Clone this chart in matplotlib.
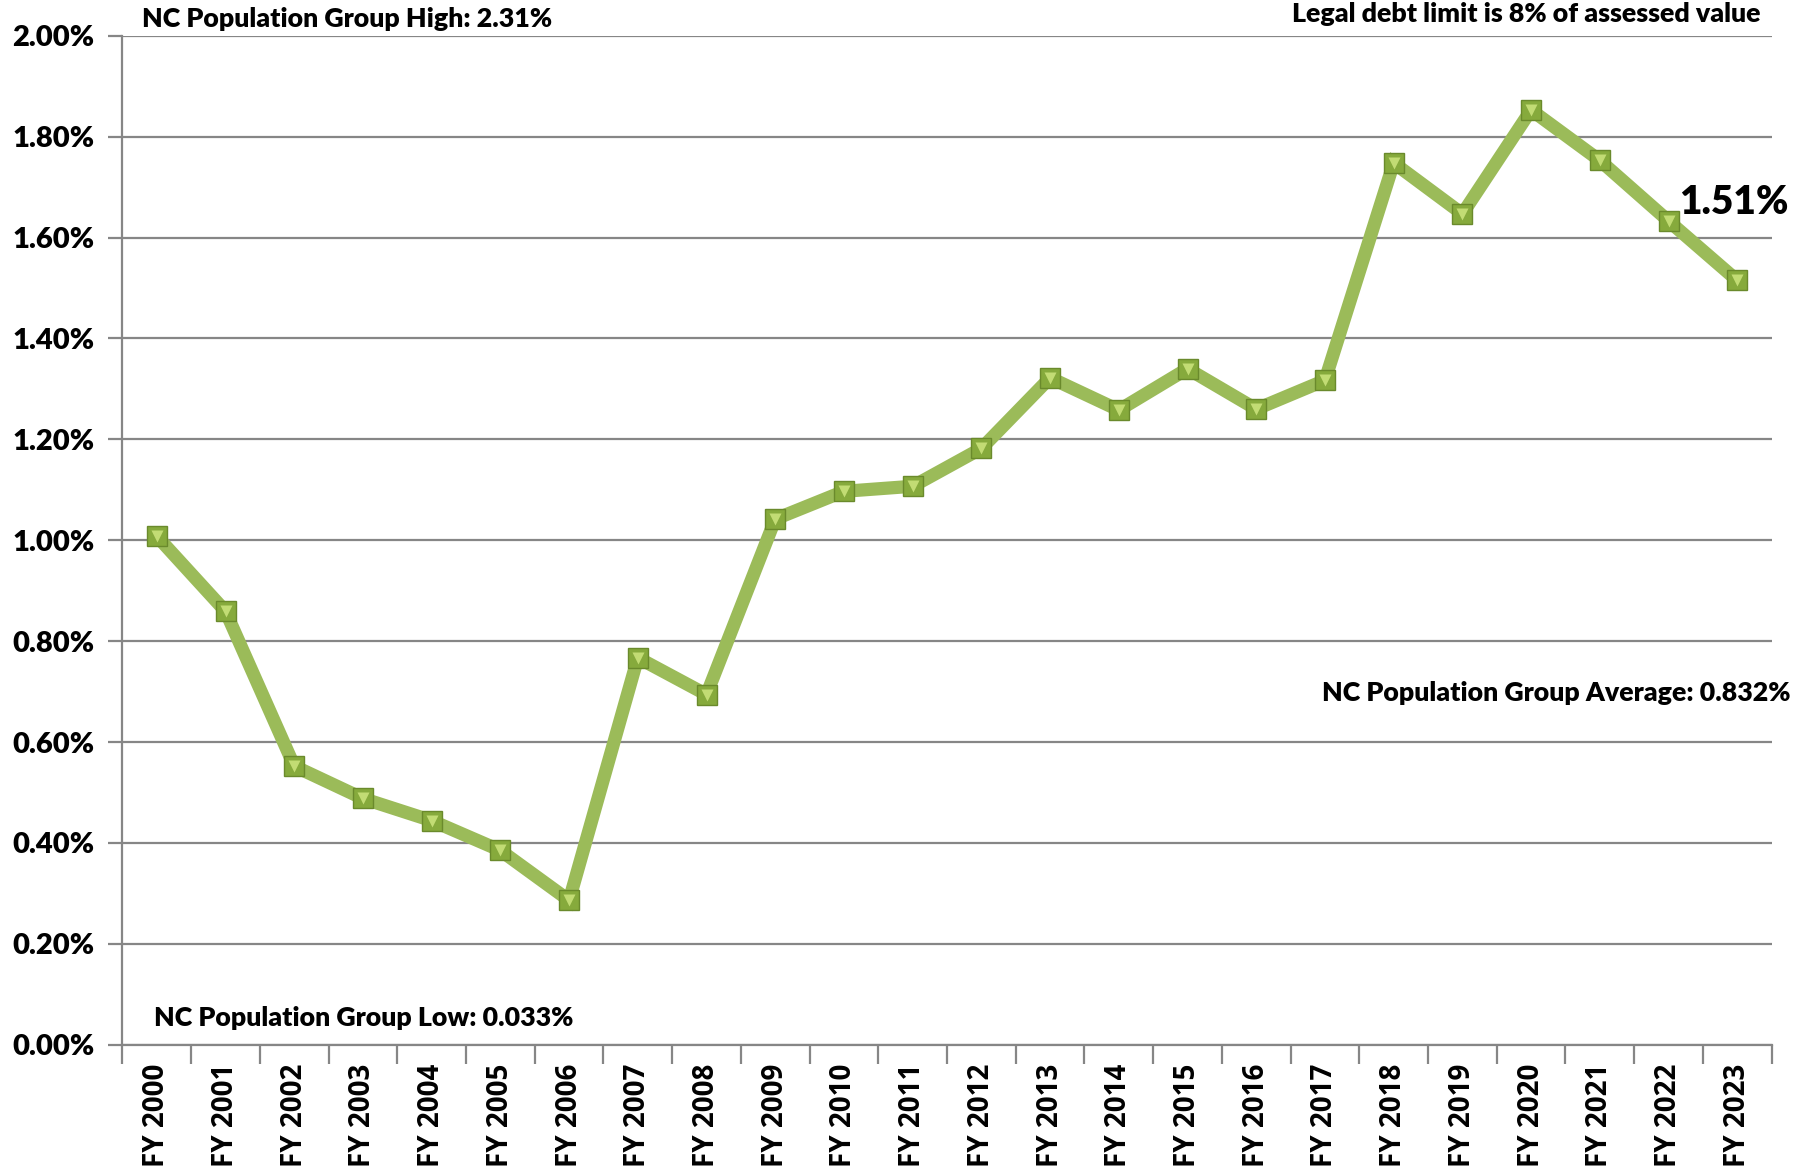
import numpy as np
import matplotlib
matplotlib.use('Agg')
import matplotlib.pyplot as plt
from matplotlib.ticker import FuncFormatter, FixedLocator

# data
years = ['FY %d' % y for y in range(2000, 2024)]
debt_pct = [1.008, 0.859, 0.552, 0.488, 0.444, 0.385, 0.286, 0.767, 0.694,
            1.042, 1.097, 1.107, 1.182, 1.322, 1.258, 1.340, 1.260, 1.317,
            1.748, 1.647, 1.853, 1.753, 1.633, 1.515]
y_ticks = [0.0, 0.2, 0.4, 0.6, 0.8, 1.0, 1.2, 1.4, 1.6, 1.8, 2.0]

note_high = 'NC Population Group High: 2.31%'
note_low = 'NC Population Group Low: 0.033%'
note_avg = 'NC Population Group Average: 0.832%'
note_limit = 'Legal debt limit is 8% of assessed value'
last_label = '1.51%'

narrow = ['Lato', 'DejaVu Sans']
wide = ['Open Sans', 'DejaVu Sans']
heavy = 'heavy'

line_col = '#9BBB59'
grid_col = '#868686'

fig = plt.figure(figsize=(18.12, 11.71), dpi=100)
ax = fig.add_axes([0.0676, 0.1079, 0.9101, 0.8615])

x = np.arange(len(years))
ax.plot(x, debt_pct, color=line_col, lw=9.5, solid_joinstyle='miter', zorder=3)
ax.plot(x, debt_pct, ls='none', marker='s', ms=15, mfc='#86AA3C', mec='#6A8A2C',
        mew=1.0, zorder=4)
ax.plot(x, debt_pct, ls='none', marker='v', ms=9, mfc='#C2DC74', mec='none',
        zorder=5)

ax.set_xlim(-0.5, len(years) - 0.5)
ax.set_ylim(0, 2.0)
ax.yaxis.set_major_locator(FixedLocator(y_ticks))
ax.yaxis.set_major_formatter(FuncFormatter(lambda v, p: '%.2f%%' % v))
ax.grid(axis='y', color=grid_col, lw=1.6, zorder=1)
ax.set_axisbelow(True)

ax.set_xticks(x)
ax.set_xticklabels(years, rotation=90)
ax.xaxis.set_minor_locator(FixedLocator(np.arange(-0.5, len(years), 1.0)))
ax.tick_params(axis='x', which='major', length=0, pad=14)
ax.tick_params(axis='x', which='minor', length=14, width=1.6, color=grid_col)
ax.tick_params(axis='y', length=10, width=1.6, color=grid_col, pad=10)

for lab in ax.get_xticklabels():
    lab.set_family(wide)
    lab.set_fontweight('bold')
    lab.set_fontsize(20)
for lab in ax.get_yticklabels():
    lab.set_family(narrow)
    lab.set_fontweight(heavy)
    lab.set_fontsize(21)

for side in ['top', 'right']:
    ax.spines[side].set_visible(False)
for side in ['left', 'bottom']:
    ax.spines[side].set_color(grid_col)
    ax.spines[side].set_linewidth(1.6)

fig.text(142 / 1812, 1 - 19 / 1171, note_high, family=narrow, fontweight=heavy,
         fontsize=19.3, va='center', ha='left')
fig.text(1760 / 1812, 1 - 14 / 1171, note_limit, family=narrow, fontweight=heavy,
         fontsize=19.3, va='center', ha='right')
fig.text(1790 / 1812, 1 - 693 / 1171, note_avg, family=narrow, fontweight=heavy,
         fontsize=19.3, va='center', ha='right')
fig.text(154 / 1812, 1 - 1018 / 1171, note_low, family=narrow, fontweight=heavy,
         fontsize=19.3, va='center', ha='left')
fig.text(1679 / 1812, 1 - 202 / 1171, last_label, family=narrow, fontweight=heavy,
         fontsize=28, va='center', ha='left')

fig.savefig('out.png', dpi=100, facecolor='white')
